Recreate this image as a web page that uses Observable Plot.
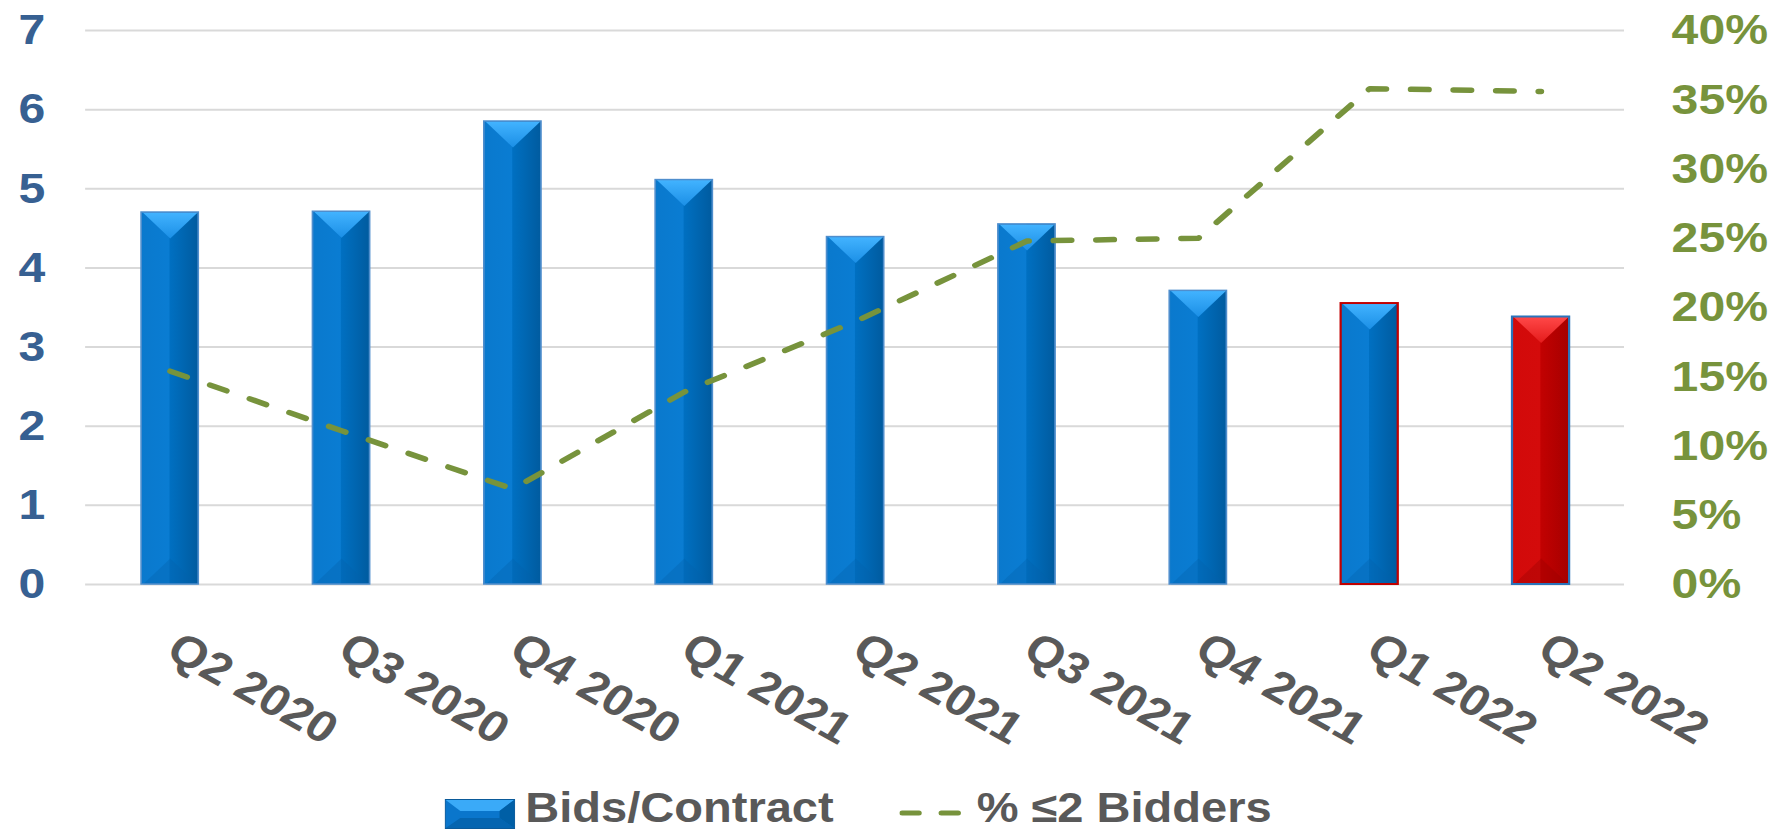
<!DOCTYPE html>
<html>
<head>
<meta charset="utf-8">
<script src="https://cdn.jsdelivr.net/npm/d3@7"></script>
<script src="https://cdn.jsdelivr.net/npm/@observablehq/plot@0.6"></script>
<style>
  html, body { margin: 0; padding: 0; background: #fff; overflow: hidden; }
  #wrap { width: 1594px; transform: scaleX(1.12); transform-origin: 0 0;
          font-family: "Liberation Sans", Arial, sans-serif; font-weight: bold; }
  #legend { position: relative; height: 42px; }
  #legend .item { position: absolute; }
  #legend .txt { top: 0px; font-size: 42px; line-height: 36px; color: #595959; white-space: nowrap; }
</style>
</head>
<body>
<div id="wrap">
  <div id="chart"></div>
  <div id="legend"></div>
</div>
<script>
// ---- data ----
const quarters = ["Q2 2020", "Q3 2020", "Q4 2020", "Q1 2021", "Q2 2021", "Q3 2021", "Q4 2021", "Q1 2022", "Q2 2022"];
const bidsPerContract = [4.70, 4.71, 5.85, 5.11, 4.39, 4.55, 3.71, 3.55, 3.38];
const pctTwoOrFewer = [15.4, 11.1, 6.9, 13.9, 19.0, 24.8, 25.0, 35.8, 35.6];
const leftTicks = [0, 1, 2, 3, 4, 5, 6, 7];
const rightTicks = [0, 5, 10, 15, 20, 25, 30, 35, 40];
const redFillQuarters = ["Q2 2022"];
const redOutlineQuarters = ["Q1 2022"];
const seriesNames = ["Bids/Contract", "% \u22642 Bidders"];

const data = quarters.map((q, i) => ({q, bids: bidsPerContract[i], pct: pctTwoOrFewer[i]}));

// ---- layout ----
const W = 1594, H = 790;
const mL = 76, mR = 144, mT = 30, mB = 206;
const padInner = 0.669, padOuter = 0.3245;
const step = (W - mL - mR) / (quarters.length - padInner + 2 * padOuter);
const bw = step * (1 - padInner);
const half = bw / 2 - 0.8;
const bevel = 26;

// secondary axis mapping (percent -> primary units)
const pctScale = d3.scaleLinear().domain([0, 40]).range([0, 7]);

const topTri = {draw(c) { c.moveTo(-half, 0); c.lineTo(half, 0); c.lineTo(0, bevel); c.closePath(); }};
const botTri = {draw(c) { c.moveTo(-half, 0); c.lineTo(half, 0); c.lineTo(0, -bevel); c.closePath(); }};

const isRed = d => redFillQuarters.includes(d.q);
const isBlue = d => !isRed(d);

function barLayers(filter, key, botFill) {
  return [
    Plot.barY(data, {filter, x: "q", y: "bids", fill: `url(#${key}L)`}),
    Plot.barY(data, {filter, x: "q", y: "bids", fill: `url(#${key}R)`, insetLeft: bw / 2}),
    Plot.dot(data, {filter, x: "q", y: () => 0, symbol: botTri, r: 5, fill: botFill, fillOpacity: 0.35}),
    Plot.dot(data, {filter, x: "q", y: "bids", symbol: topTri, r: 5, fill: `url(#${key}T)`})
  ];
}

const svg = Plot.plot({
  width: W,
  height: H,
  marginLeft: mL,
  marginRight: mR,
  marginTop: mT,
  marginBottom: mB,
  style: {fontFamily: "'Liberation Sans', Arial, sans-serif", fontWeight: "bold", background: "transparent", overflow: "visible"},
  x: {type: "band", domain: quarters, paddingInner: padInner, paddingOuter: padOuter},
  y: {domain: [0, 7]},
  marks: [
    Plot.gridY(leftTicks, {stroke: "#d9d9d9", strokeOpacity: 1, strokeWidth: 2}),
    ...barLayers(isBlue, "blue", "#0462ab"),
    ...barLayers(isRed, "red", "#980000"),
    Plot.barY(data, {filter: d => isBlue(d) && !redOutlineQuarters.includes(d.q), x: "q", y: "bids", fill: "none", stroke: "#4f8ecd", strokeWidth: 1.5}),
    Plot.barY(data, {filter: d => redOutlineQuarters.includes(d.q), x: "q", y: "bids", fill: "none", stroke: "#c00000", strokeWidth: 2}),
    Plot.barY(data, {filter: isRed, x: "q", y: "bids", fill: "none", stroke: "#2a74bb", strokeWidth: 2}),
    Plot.lineY(data, {x: "q", y: d => pctScale(d.pct), stroke: "#77933C", strokeWidth: 5.5,
      strokeDasharray: "16,22", strokeLinecap: "round", strokeLinejoin: "round"}),
    Plot.axisY(leftTicks, {anchor: "left", tickSize: 0, tickPadding: 36, fontSize: 43, fontWeight: "bold",
      color: "#376092", label: null, tickFormat: d => String(d)}),
    Plot.axisY(rightTicks.map(p => pctScale(p)), {anchor: "right", tickSize: 0, tickPadding: 42, fontSize: 43,
      fontWeight: "bold", color: "#77933C", label: null,
      tickFormat: v => `${Math.round(pctScale.invert(v))}%`}),
    Plot.axisX({anchor: "bottom", tickSize: 0, tickPadding: 45, dx: 11, tickRotate: 32, fontSize: 44, fontWeight: "bold",
      color: "#595959", textAnchor: "start", lineAnchor: "top", label: null})
  ]
});

// gradients for the bevelled bars
const defs = d3.select(svg).insert("defs", ":first-child");
function grad(id, horizontal, c0, c1) {
  const g = defs.append("linearGradient").attr("id", id)
    .attr("x1", 0).attr("y1", 0).attr("x2", horizontal ? 1 : 0).attr("y2", horizontal ? 0 : 1);
  g.append("stop").attr("offset", 0).attr("stop-color", c0);
  g.append("stop").attr("offset", 1).attr("stop-color", c1);
}
grad("blueL", true, "#0a79cd", "#0a80d8");
grad("blueR", true, "#0070c2", "#005b9f");
grad("blueT", false, "#42b3ff", "#1b8fe6");
grad("redL", true, "#d20a0a", "#d60c0c");
grad("redR", true, "#c20101", "#a60000");
grad("redT", false, "#ff4848", "#e41b1b");

document.getElementById("chart").appendChild(svg);

// ---- legend ----
const legend = d3.select("#legend");
const sw = legend.append("svg").attr("class", "item").style("left", "397px").style("top", "9px")
  .attr("width", 63).attr("height", 30);
sw.append("rect").attr("x", 0.5).attr("y", 0.5).attr("width", 62).attr("height", 29).attr("fill", "#0a76cc").attr("stroke", "#0a5a9a");
sw.append("polygon").attr("points", "1,1 62,1 49,12 14,12").attr("fill", "#3aaaf8");
sw.append("polygon").attr("points", "1,29 62,29 49,19 14,19").attr("fill", "#0565b0");
sw.append("polygon").attr("points", "62,1 62,29 49,19 49,12").attr("fill", "#005fa6");
legend.append("span").attr("class", "item txt").style("left", "469px").text(seriesNames[0]);
const ls = legend.append("svg").attr("class", "item").style("left", "803px").style("top", "16px")
  .attr("width", 58).attr("height", 14);
ls.append("line").attr("x1", 2.5).attr("x2", 55).attr("y1", 7).attr("y2", 7)
  .attr("stroke", "#77933C").attr("stroke-width", 5).attr("stroke-linecap", "round").attr("stroke-dasharray", "15,20");
legend.append("span").attr("class", "item txt").style("left", "872px").text(seriesNames[1]);
</script>
</body>
</html>
